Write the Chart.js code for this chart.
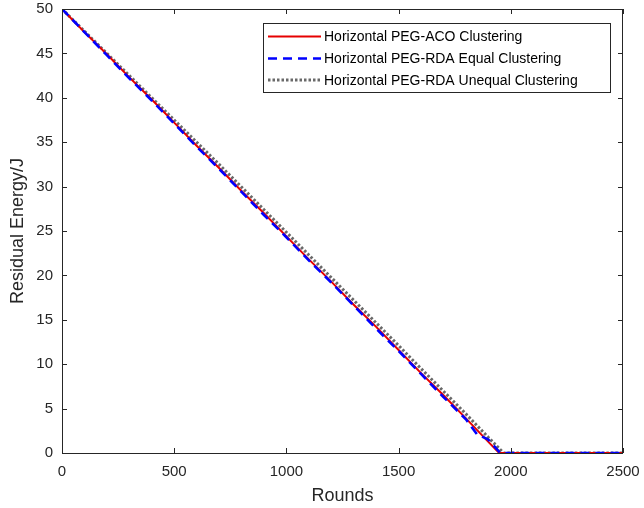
<!DOCTYPE html>
<html>
<head>
<meta charset="utf-8">
<script src="https://cdn.jsdelivr.net/npm/chart.js@4/dist/chart.umd.min.js"></script>
<style>
html,body{margin:0;padding:0;background:#fff;}
#wrap{width:644px;height:508px;position:relative;}
</style>
</head>
<body>
<div id="wrap"><canvas id="c" width="644" height="508"></canvas></div>
<script>
// ---- data ----
const seriesLabels = [
  "Horizontal PEG-ACO Clustering",
  "Horizontal PEG-RDA Equal Clustering",
  "Horizontal PEG-RDA Unequal Clustering"
];
const acoRounds = [0,100,200,300,400,500,600,700,800,900,1000,1100,1200,1300,1400,1500,1600,1700,1800,1900,1948,2000,2100,2200,2300,2400,2500];
const acoEnergy = [50,47.4,44.9,42.3,39.8,37.2,34.6,32.1,29.5,27.0,24.4,21.8,19.3,16.7,14.2,11.6,9.0,6.5,3.9,1.25,0,0,0,0,0,0,0];
const equalRounds = [0,100,200,300,400,500,600,700,800,900,1000,1100,1200,1300,1400,1500,1600,1700,1800,1850,1900,1953,2000,2100,2200,2300,2400,2500];
const equalEnergy = [50,47.4,44.8,42.2,39.7,37.1,34.5,32.0,29.4,26.8,24.3,21.7,19.2,16.6,14.0,11.5,8.9,6.3,3.8,2.1,1.5,0,0,0,0,0,0,0];
const unequalRounds = [0,100,200,300,400,500,600,700,800,900,1000,1100,1200,1300,1400,1500,1600,1700,1800,1900,1968,2000,2100,2200,2300,2400,2500];
const unequalEnergy = [50,47.5,45.0,42.5,40.0,37.5,35.0,32.5,29.95,27.4,24.85,22.3,19.75,17.2,14.65,12.1,9.5,6.95,4.4,1.75,0,0,0,0,0,0,0];
const xTicks = [0,500,1000,1500,2000,2500];
const yTicks = [0,5,10,15,20,25,30,35,40,45,50];
const xTitle = "Rounds";
const yTitle = "Residual Energy/J";

const AXIS = '#262626';
const FONT = '"Liberation Sans", Arial, sans-serif';

function pts(xs, ys){ return xs.map((x,i)=>({x:x, y:ys[i]})); }

const styles = [
  {color:'#e60000', width:2, dash:[]},
  {color:'#0000ff', width:2.6, dash:[9,6]},
  {color:'#696969', width:3, dash:[2.5,2]}
];

const frameTicks = {
  id:'frameTicks',
  afterDatasetsDraw(chart){
    const {ctx, chartArea:a, scales} = chart;
    ctx.save();
    ctx.strokeStyle = AXIS; ctx.lineWidth = 1;
    ctx.strokeRect(Math.round(a.left)+0.5, Math.round(a.top)+0.5, Math.round(a.right-a.left)-1, Math.round(a.bottom-a.top));
    const L = 5;
    ctx.beginPath();
    xTicks.forEach(v=>{
      const px = Math.round(scales.x.getPixelForValue(v))+0.5;
      ctx.moveTo(px, a.bottom); ctx.lineTo(px, a.bottom-L);
      ctx.moveTo(px, a.top); ctx.lineTo(px, a.top+L);
    });
    yTicks.forEach(v=>{
      const py = Math.round(scales.y.getPixelForValue(v))+0.5;
      ctx.moveTo(a.left, py); ctx.lineTo(a.left+L, py);
      ctx.moveTo(a.right, py); ctx.lineTo(a.right-L, py);
    });
    ctx.stroke();
    ctx.restore();
  },
  afterDraw(chart){
    const ctx = chart.ctx;
    ctx.save();
    const bx=263.5, by=23.5, bw=347, bh=69;
    ctx.fillStyle='#fff'; ctx.fillRect(bx,by,bw,bh);
    ctx.strokeStyle=AXIS; ctx.lineWidth=1; ctx.strokeRect(bx,by,bw,bh);
    const rows=[36.5,58.5,80];
    ctx.font = '14px '+FONT;
    ctx.textBaseline='middle'; ctx.textAlign='left';
    seriesLabels.forEach((lab,i)=>{
      const s = styles[i];
      ctx.beginPath();
      ctx.strokeStyle=s.color; ctx.lineWidth=s.width; ctx.setLineDash(s.dash);
      ctx.moveTo(268, rows[i]); ctx.lineTo(321, rows[i]); ctx.stroke();
      ctx.setLineDash([]);
      ctx.fillStyle='#000';
      ctx.fillText(lab, 324, rows[i]+1);
    });
    ctx.restore();
  }
};

const data = {
  datasets: [
    {label:seriesLabels[0], data:pts(acoRounds, acoEnergy), order:2},
    {label:seriesLabels[1], data:pts(equalRounds, equalEnergy), order:1},
    {label:seriesLabels[2], data:pts(unequalRounds, unequalEnergy), order:3}
  ].map((d,i)=>Object.assign(d,{
    borderColor:styles[i].color, borderWidth:styles[i].width, borderDash:styles[i].dash,
    showLine:true, pointRadius:0, fill:false, tension:0, backgroundColor:styles[i].color
  }))
};

new Chart(document.getElementById('c'), {
  type:'scatter',
  data:data,
  plugins:[frameTicks],
  options:{
    responsive:false, animation:false,
    layout:{padding:{top:9, right:21, left:0, bottom:0}},
    plugins:{legend:{display:false}, tooltip:{enabled:false}},
    scales:{
      x:{
        type:'linear', min:0, max:2500,
        afterBuildTicks(s){ s.ticks = xTicks.map(v=>({value:v})); },
        afterFit(s){ s.height = 55; s.paddingLeft = 0; s.paddingRight = 0; },
        grid:{display:false, drawTicks:false},
        border:{display:false},
        ticks:{color:AXIS, font:{family:FONT, size:15}, padding:10, maxRotation:0, autoSkip:false, callback:v=>String(v)},
        title:{display:true, text:xTitle, color:AXIS, font:{family:FONT, size:18}, padding:{top:0,bottom:1}}
      },
      y:{
        type:'linear', min:0, max:50,
        afterBuildTicks(s){ s.ticks = yTicks.map(v=>({value:v})); },
        afterFit(s){ s.width = 62; s.paddingTop = 0; s.paddingBottom = 0; },
        grid:{display:false, drawTicks:false},
        border:{display:false},
        ticks:{color:AXIS, font:{family:FONT, size:15}, padding:9, autoSkip:false, callback:v=>String(v)},
        title:{display:true, text:yTitle, color:AXIS, font:{family:FONT, size:18}, padding:{top:7,bottom:0}}
      }
    }
  }
});
</script>
</body>
</html>
